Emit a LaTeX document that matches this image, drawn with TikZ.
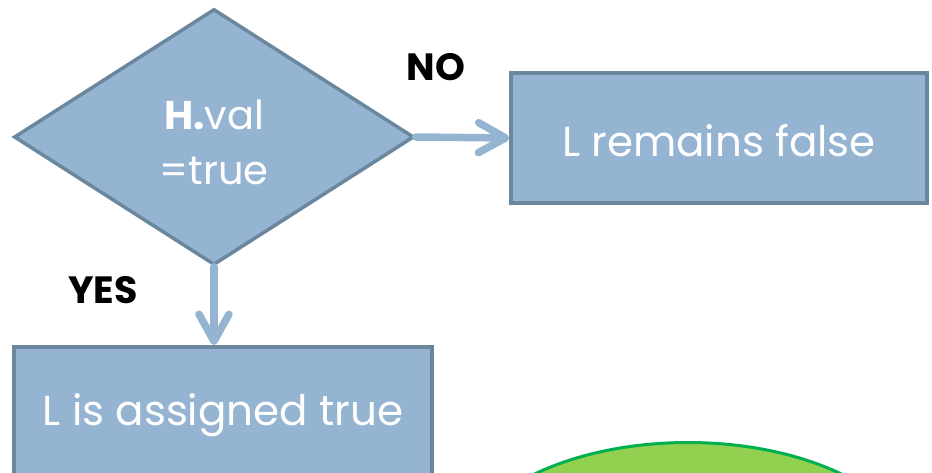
\documentclass[tikz,border=0pt]{standalone}
\usepackage{fontspec}
\setmainfont{Poppins}
\usetikzlibrary{shapes.geometric,arrows.meta}
\definecolor{boxfill}{HTML}{94B4D2}
\definecolor{boxline}{HTML}{6A879E}
\definecolor{okfill}{HTML}{92D050}
\definecolor{okline}{HTML}{00B050}
\tikzset{
  flowbox/.style={draw=boxline, fill=boxfill, line width=3.5pt, inner sep=0pt, text=white},
  flowarrow/.style={draw=boxfill, line width=7.5pt, line cap=round,
    -{Straight Barb[length=27pt,width=30pt,line width=7.5pt,round]}},
  answer/.style={font=\fontsize{38}{40}\selectfont\bfseries, text=black, inner sep=0pt}
}
\begin{document}
\begin{tikzpicture}[x=1pt,y=-1pt]
  \useasboundingbox (0,0) rectangle (932,472);
  \begin{scope}
    \clip (0,0) rectangle (932,472);
    % decision
    \node[flowbox, diamond, minimum width=400pt, minimum height=256pt, aspect=1.5625] (cond) at (214,137) {};
    \node[text=white, font=\fontsize{40}{55}\selectfont, align=center, inner sep=0pt]
      (condlbl) at (214,142) {\textbf{H.}val\\=true};
    % outcomes
    \node[flowbox, rectangle, minimum width=416pt, minimum height=130pt] (keep) at (719,138) {};
    \node[font=\fontsize{42}{46}\selectfont, text=white] (keeplbl) at (719,141) {L remains false};
    \node[flowbox, rectangle, minimum width=418pt, minimum height=200pt,
          anchor=north] (assign) at (223,345) {};
    \node[font=\fontsize{42}{46}\selectfont, text=white] (assignlbl) at (223,415) {L is assigned true};
    % next step, partly visible
    \node[draw=okline, fill=okfill, line width=3pt, ellipse, minimum width=462pt,
          minimum height=250pt, anchor=north] (next) at (688,441) {};
    % connectors
    \draw[flowarrow] (cond.east) -- (keep.west);
    \draw[flowarrow] (cond.south) -- (cond.south |- assign.north);
    \node[answer] (nolbl) at (436,67) {NO};
    \node[answer] (yeslbl) at (103,290) {YES};
  \end{scope}
\end{tikzpicture}
\end{document}
